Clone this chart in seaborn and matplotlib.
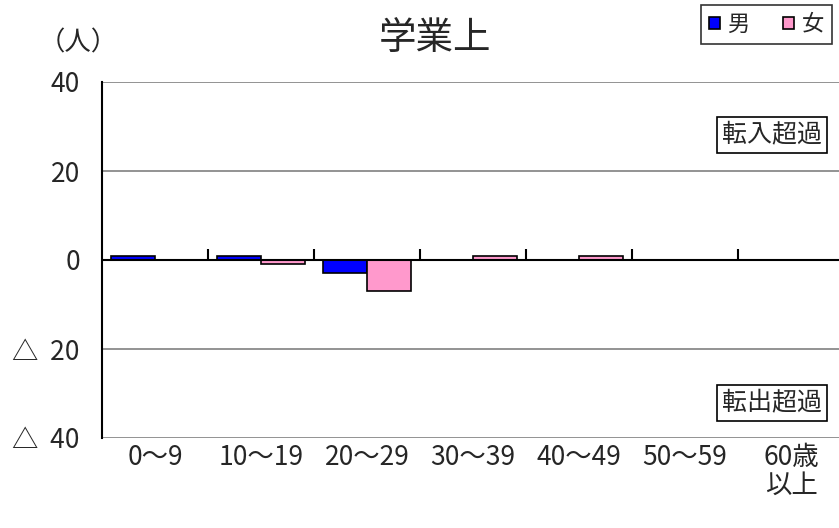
import numpy as np
import pandas as pd
import matplotlib
matplotlib.use("Agg")
import matplotlib.pyplot as plt
import seaborn as sns

ages = ["0～9", "10～19", "20～29", "30～39", "40～49", "50～59", "60歳\n以上"]
male = [1, 1, -3, 0, 0, 0, 0]
female = [0, -1, -7, 1, 1, 0, 0]
sexes = ["男", "女"]
ytick_vals = [40, 20, 0, -20, -40]
ytick_labels = ["40", "20", "0", "△  20", "△  40"]
title = "学業上"

sns.set_style("white")
plt.rcParams['font.family'] = ['Noto Sans CJK JP', 'DejaVu Sans']

df = pd.DataFrame({
    "age": ages * 2,
    "sex": [sexes[0]] * len(ages) + [sexes[1]] * len(ages),
    "value": male + female,
})

W, H = 839, 528
fig = plt.figure(figsize=(W / 100, H / 100), dpi=100)
left, right, top, bottom = 102, 844, 82, 438
ax = fig.add_axes([left / W, (H - bottom) / H, (right - left) / W, (bottom - top) / H])

sns.barplot(data=df, x="age", y="value", hue="sex", order=ages, hue_order=sexes,
            palette={"男": "#0000FF", "女": "#FF99CC"}, width=0.83, saturation=1,
            edgecolor="black", linewidth=1.2, ax=ax, legend=True, zorder=3)

ax.set_xlim(-0.5, len(ages) - 0.5)
ax.set_ylim(-40, 40)
ax.set_yticks(ytick_vals)
ax.set_yticklabels(ytick_labels, fontsize=19)
ax.set_xlabel("")
ax.set_ylabel("")
ax.tick_params(axis="y", direction="in", length=7, width=1.5, color="black", pad=16)
ax.tick_params(axis="x", length=0, labelsize=19, pad=4)
for lab in ax.get_xticklabels():
    lab.set_verticalalignment("top")
    lab.set_linespacing(1.05)
ax.grid(axis="y", color="#808080", linewidth=1.2, zorder=0)
ax.grid(axis="x", visible=False)
for s in ["top", "right", "bottom"]:
    ax.spines[s].set_visible(False)
ax.spines["left"].set_color("black")
ax.spines["left"].set_linewidth(1.5)
ax.set_axisbelow(True)
ax.axhline(0, color="black", linewidth=1.5, zorder=4)

sec = ax.secondary_xaxis(0.5)
sec.set_xticks(np.arange(0.5, len(ages), 1))
sec.set_xticklabels([])
sec.tick_params(axis="x", direction="out", length=8, width=1.5, color="black")
for s in sec.spines.values():
    s.set_visible(False)

handles, labels = ax.get_legend_handles_labels()
ax.get_legend().remove()
leg = fig.legend(handles, labels, loc="upper right", bbox_to_anchor=(832 / W, 1 - 5 / H),
                 ncol=2, fontsize=16, frameon=True, fancybox=False, borderaxespad=0,
                 handlelength=0.5, handleheight=0.5, handletextpad=0.35,
                 columnspacing=1.5, borderpad=0.35)
leg.get_frame().set_edgecolor("black")
leg.get_frame().set_linewidth(1.2)

fig.text(435 / W, 1 - 39 / H, title, fontsize=27, ha="center", va="center")
fig.text(78 / W, 1 - 43 / H, "（人）", fontsize=19, ha="center", va="center")

bbox = dict(boxstyle="square,pad=0.2", facecolor="white", edgecolor="black", linewidth=1.2)
ax.text(0.903, 0.8525, "転入超過", transform=ax.transAxes, fontsize=18,
        ha="center", va="center", bbox=bbox)
ax.text(0.903, 0.0997, "転出超過", transform=ax.transAxes, fontsize=18,
        ha="center", va="center", bbox=bbox)

fig.savefig("out.png", dpi=100)
